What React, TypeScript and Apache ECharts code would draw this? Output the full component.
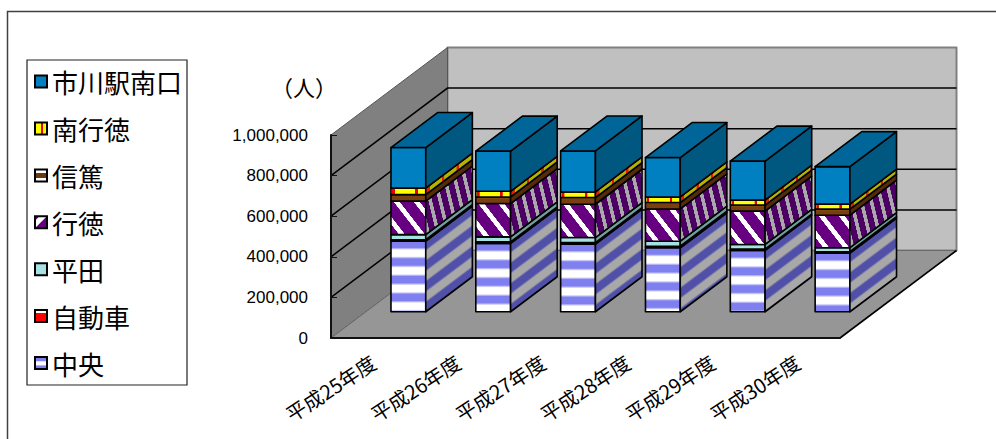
import React, { useEffect, useRef } from "react";
import * as echarts from "echarts";

const years = ["平成25年度", "平成26年度", "平成27年度", "平成28年度", "平成29年度", "平成30年度"];
const tickValues = [0, 200000, 400000, 600000, 800000, 1000000];

// Passengers per year for each route, listed from the bottom of the stack upward.
const chuo = [348000, 337000, 333000, 315000, 302000, 289000];
const jidosha = [7000, 7500, 8000, 8000, 6500, 6500];
const hirata = [25000, 24500, 24500, 24500, 23000, 20000];
const gyotoku = [165000, 164000, 164000, 159000, 164000, 160000];
const shintoku = [32000, 32500, 33000, 31500, 30000, 30000];
const minamiGyotoku = [32000, 28000, 27500, 27500, 24500, 24500];
const ichikawa = [200000, 198000, 202000, 194000, 192000, 185000];

const stackNames = ["中央", "自動車", "平田", "行徳", "信篤", "南行徳", "市川駅南口"];
const stackValues = [chuo, jidosha, hirata, gyotoku, shintoku, minamiGyotoku, ichikawa];
const legendOrder = ["市川駅南口", "南行徳", "信篤", "行徳", "平田", "自動車", "中央"];

const UI_FONT = '"Noto Sans CJK JP", sans-serif';
const NUM_FONT = '"Liberation Sans", Arial, sans-serif';

// Oblique projection of the box: how far the back plane shifts from the front plane.
const DEPTH_X = 116.5;
const DEPTH_Y = -87.5;
const BAR_WIDTH_RATIO = 0.41;
const BAR_FRONT_DEPTH = 0.3;
const BAR_DEPTH = 0.4;

type Pt = [number, number];

// Repeating two-colour band as a user-space linear gradient along direction (ux, uy).
function stripes(
  x: number, y: number, ux: number, uy: number, period: number, span: number,
  a: string, b: string, frac: number, soft: number,
) {
  const count = Math.ceil(span / period) + 1;
  const colorStops: { offset: number; color: string }[] = [];
  for (let k = 0; k < count; k++) {
    colorStops.push({ offset: k / count, color: a });
    colorStops.push({ offset: (k + frac) / count, color: a });
    colorStops.push({ offset: (k + frac + soft) / count, color: b });
    colorStops.push({ offset: (k + 1 - soft) / count, color: b });
  }
  const len = count * period;
  return { type: "linear", global: true, x, y, x2: x + ux * len, y2: y + uy * len, colorStops };
}

function faceFills(name: string, l: number, r: number, top: number, bottom: number, dx: number, dy: number) {
  const h = bottom - top;
  const w = r - l;
  const span = h + w + Math.abs(dx) + Math.abs(dy) + 40;
  switch (name) {
    case "中央": {
      const n = Math.hypot(dx, dy);
      const ux = -dy / n;
      const uy = dx / n;
      return {
        front: stripes(l, top, 0, 1, 17.7, h, "#7f7ff0", "#ffffff", 0.36, 0.14),
        side: stripes(r, top, ux, uy, 16.5, span, "#5050a8", "#a8a8a8", 0.38, 0.12),
      };
    }
    case "自動車":
      return { front: "#ff0000", side: "#a00000" };
    case "平田":
      return { front: "#a6e2e2", side: "#6f9f9f" };
    case "行徳": {
      const f = Math.hypot(9, 7);
      const s = Math.hypot(62, 15);
      return {
        front: stripes(l + ((6.6 - 15.8) * 9) / f, bottom - ((6.6 - 15.8) * 7) / f, 9 / f, -7 / f, 15.8, span, "#ffffff", "#660080", 0.28, 0.02),
        side: stripes(r + (1 - 9.7) * (62 / s), bottom - (1 - 9.7) * (15 / s), 62 / s, -15 / s, 9.7, span, "#a9a9a9", "#4c0064", 0.34, 0.03),
      };
    }
    case "信篤":
      return {
        front: {
          type: "linear", x: 0, y: 0, x2: 0, y2: 1,
          colorStops: [
            { offset: 0, color: "#9a6a3a" },
            { offset: 0.3, color: "#7a3f10" },
            { offset: 1, color: "#7a3f10" },
          ],
        },
        side: "#552c08",
      };
    case "南行徳":
      return {
        front: stripes(l + 1.5 - 23, top, 1, 0, 23, w + 30, "#f00000", "#ffff00", 0.09, 0.02),
        side: stripes(r + 2, top, 1, 0, 14.5, Math.abs(dx) + 20, "#e02000", "#b4b400", 0.13, 0.03),
      };
    default:
      return { front: "#0080c0", side: "#005880", top: "#006699" };
  }
}

function polygon(points: Pt[], fill: unknown, stroke = "#000", lineWidth = 1.6) {
  return { type: "polygon", silent: true, shape: { points }, style: { fill, stroke, lineWidth, lineJoin: "round" } };
}

function segmentRenderer(stackIndex: number) {
  return (_params: unknown, api: any) => {
    const idx = api.value(0) as number;
    let base = 0;
    for (let i = 0; i < stackIndex; i++) base += stackValues[i][idx];
    const value = stackValues[stackIndex][idx];
    const bandWidth = api.size([1, 0])[0] as number;
    const c0 = api.coord([idx, base]);
    const c1 = api.coord([idx, base + value]);
    const cx = c0[0] + DEPTH_X * BAR_FRONT_DEPTH;
    const l = cx - (bandWidth * BAR_WIDTH_RATIO) / 2;
    const r = cx + (bandWidth * BAR_WIDTH_RATIO) / 2;
    const bottom = c0[1] + DEPTH_Y * BAR_FRONT_DEPTH;
    const top = c1[1] + DEPTH_Y * BAR_FRONT_DEPTH;
    const dx = DEPTH_X * BAR_DEPTH;
    const dy = DEPTH_Y * BAR_DEPTH;
    const fills: any = faceFills(stackNames[stackIndex], l, r, top, bottom, dx, dy);
    const children: any[] = [
      polygon([[l, top], [r, top], [r, bottom], [l, bottom]], fills.front),
      polygon([[r, top], [r + dx, top + dy], [r + dx, bottom + dy], [r, bottom]], fills.side),
    ];
    if (fills.top) {
      children.push(polygon([[l, top], [l + dx, top + dy], [r + dx, top + dy], [r, top]], fills.top));
    }
    return { type: "group", children };
  };
}

// Back wall, side wall and floor of the box, with the gridlines carried across both walls.
function renderBox(params: any, api: any) {
  const { x, width } = params.coordSys;
  const right = x + width;
  const y0 = api.coord([0, tickValues[0]])[1];
  const yTop = api.coord([0, tickValues[tickValues.length - 1]])[1];
  const backL = x + DEPTH_X;
  const backR = right + DEPTH_X;
  const children: any[] = [
    polygon([[backL, yTop + DEPTH_Y], [backR, yTop + DEPTH_Y], [backR, y0 + DEPTH_Y], [backL, y0 + DEPTH_Y]], "#c0c0c0", "#808080", 2),
    polygon([[x, yTop], [backL, yTop + DEPTH_Y], [backL, y0 + DEPTH_Y], [x, y0]], "#808080", "#555555", 1),
    polygon([[x, y0], [right, y0], [backR, y0 + DEPTH_Y], [backL, y0 + DEPTH_Y]], "#969696", "#6a6a6a", 1),
  ];
  tickValues.slice(1, -1).forEach((v) => {
    const y = api.coord([0, v])[1];
    children.push({
      type: "polyline",
      silent: true,
      shape: { points: [[x, y], [backL, y + DEPTH_Y], [backR, y + DEPTH_Y]] },
      style: { fill: "none", stroke: "#000", lineWidth: 1.5 },
    });
  });
  children.push({
    type: "line",
    silent: true,
    shape: { x1: right, y1: y0, x2: backR, y2: y0 + DEPTH_Y },
    style: { stroke: "#000", lineWidth: 1.6 },
  });
  return { type: "group", children };
}

const hardStops = (pairs: [number, string][]) => pairs.map(([offset, color]) => ({ offset, color }));

const legendSwatches: Record<string, unknown> = {
  市川駅南口: "#0080c0",
  南行徳: {
    type: "linear", x: 0, y: 0, x2: 1, y2: 0,
    colorStops: hardStops([[0, "#ffff00"], [0.5, "#ffff00"], [0.5, "#f00000"], [0.7, "#f00000"], [0.7, "#ffff00"], [1, "#ffff00"]]),
  },
  信篤: {
    type: "linear", x: 0, y: 0, x2: 0, y2: 1,
    colorStops: hardStops([[0, "#ffffff"], [0.3, "#ffffff"], [0.3, "#6b3a0c"], [0.72, "#6b3a0c"], [0.72, "#ffffff"], [1, "#ffffff"]]),
  },
  行徳: {
    type: "linear", x: 0, y: 0, x2: 1, y2: 1,
    colorStops: hardStops([[0, "#660080"], [0.18, "#660080"], [0.2, "#ffffff"], [0.48, "#ffffff"], [0.5, "#660080"], [1, "#660080"]]),
  },
  平田: "#a6e2e2",
  自動車: {
    type: "linear", x: 0, y: 0, x2: 0, y2: 1,
    colorStops: hardStops([[0, "#ffffff"], [0.2, "#ffffff"], [0.2, "#ff0000"], [1, "#ff0000"]]),
  },
  中央: {
    type: "linear", x: 0, y: 0, x2: 0, y2: 1,
    colorStops: hardStops([[0, "#7f7ff0"], [0.3, "#7f7ff0"], [0.4, "#ffffff"], [0.65, "#ffffff"], [0.75, "#7f7ff0"], [1, "#7f7ff0"]]),
  },
};

export default function App() {
  const ref = useRef<HTMLDivElement>(null);

  useEffect(() => {
    if (!ref.current) return;
    const chart = echarts.init(ref.current, undefined, { renderer: "svg" });
    chart.setOption({
      animation: false,
      backgroundColor: "#ffffff",
      grid: { left: 331, top: 135, width: 509, height: 203, containLabel: false },
      xAxis: {
        type: "category",
        data: years,
        z: 10,
        axisLine: { lineStyle: { color: "#111", width: 2 } },
        axisTick: { inside: true, length: 6, lineStyle: { color: "#333", width: 1 } },
        axisLabel: { rotate: 33, margin: 22, color: "#000", fontSize: 20, fontFamily: UI_FONT },
      },
      yAxis: {
        type: "value",
        min: 0,
        max: 1000000,
        interval: 200000,
        z: 10,
        splitLine: { show: false },
        axisLine: { show: true, lineStyle: { color: "#111", width: 2 } },
        axisTick: { show: true, inside: true, length: 6, lineStyle: { color: "#111", width: 1 } },
        axisLabel: { margin: 23, color: "#000", fontSize: 17, fontFamily: NUM_FONT },
      },
      legend: {
        orient: "vertical",
        left: 27,
        top: 60,
        selectedMode: false,
        icon: "rect",
        itemWidth: 12,
        itemHeight: 12,
        itemGap: 20.9,
        padding: [8.6, 5, 9, 7],
        borderColor: "#222",
        borderWidth: 1.2,
        itemStyle: { borderColor: "#000", borderWidth: 2 },
        textStyle: { color: "#000", fontSize: 26, lineHeight: 25, fontFamily: UI_FONT },
        data: legendOrder.map((name) => ({ name, itemStyle: { color: legendSwatches[name] } })),
      },
      graphic: [
        {
          type: "polyline",
          silent: true,
          shape: { points: [[7.5, 439], [7.5, 11.5], [996, 11.5]] },
          style: { fill: "none", stroke: "#404040", lineWidth: 1.5 },
        },
        {
          type: "text",
          silent: true,
          x: 304,
          y: 86,
          style: { text: "（人）", fill: "#000", fontSize: 22, fontFamily: UI_FONT, align: "center", verticalAlign: "middle" },
        },
      ],
      series: [
        {
          type: "custom",
          name: "box",
          silent: true,
          renderItem: renderBox,
          encode: { x: 0, y: 1 },
          data: [[0, 0]],
        },
        ...stackNames.map((name, s) => ({
          type: "custom",
          name,
          silent: true,
          renderItem: segmentRenderer(s),
          encode: { x: 0, y: 1 },
          data: stackValues[s].map((v, i) => [i, v]),
        })),
      ],
    });
    return () => chart.dispose();
  }, []);

  return <div ref={ref} style={{ position: "fixed", left: 0, top: 0, width: 996, height: 439 }} />;
}
